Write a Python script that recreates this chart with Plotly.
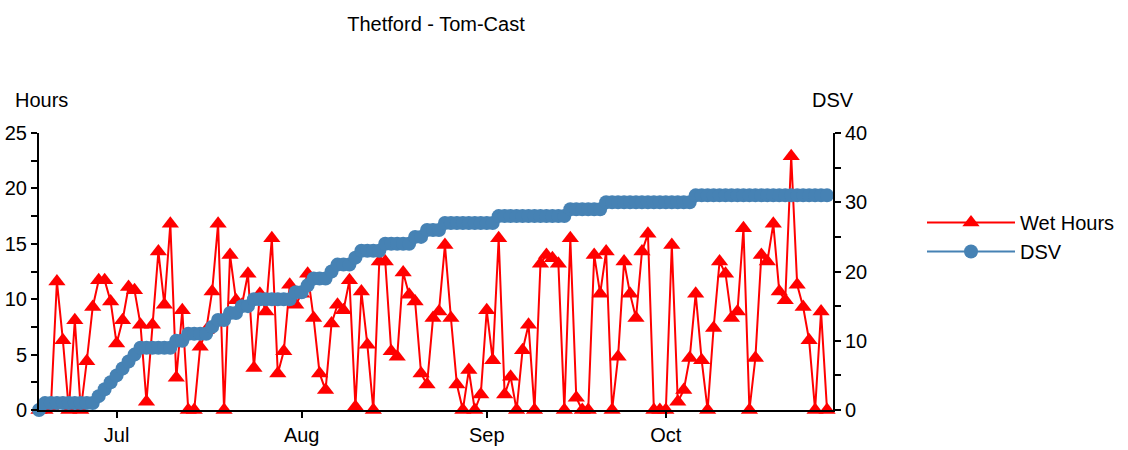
import pandas as pd
import plotly.graph_objects as go

# ---- data ----
dates = pd.date_range("2010-06-18", "2010-10-28", freq="D")

wet_hours = [
    0, 0, 0.3, 11.6, 6.3, 0, 8.1, 0, 4.4, 9.3,
    11.7, 11.7, 9.8, 6.0, 8.1, 11.1, 10.8, 7.7, 0.75, 7.7,
    14.3, 9.5, 16.8, 2.9, 9.0, 0, 0, 5.7, 7.2, 10.7,
    16.8, 0, 14.0, 9.9, 9.5, 12.3, 3.8, 10.5, 8.9, 15.5,
    3.3, 5.3, 11.3, 9.5, 10.5, 12.3, 8.3, 3.3, 1.8, 7.8,
    9.5, 9.0, 11.7, 0.3, 10.7, 5.9, 0, 13.4, 13.4, 5.3,
    4.8, 12.4, 10.4, 9.8, 3.3, 2.3, 8.3, 8.9, 14.9, 8.3,
    2.3, 0, 3.6, 0, 1.4, 9.0, 4.5, 15.5, 1.4, 3.0,
    0, 5.4, 7.7, 0, 13.2, 14.0, 13.7, 13.2, 0, 15.5,
    1.1, 0, 0, 14.0, 10.5, 14.3, 0, 4.8, 13.4, 10.5,
    8.3, 14.3, 15.9, 0, 0, 0, 14.9, 0.75, 1.8, 4.7,
    10.5, 4.5, 0, 7.4, 13.4, 12.3, 8.3, 8.9, 16.4, 0,
    4.7, 14.0, 13.4, 16.8, 10.7, 9.9, 22.9, 11.3, 9.3, 6.3,
    0, 8.9, 0,
]

dsv = (
    [0] + [1] * 9 + [2, 3, 4, 5, 6, 7, 8] + [9] * 6 + [10] * 2 + [11] * 4
    + [12] + [13] * 2 + [14] * 2 + [15] * 2 + [16] * 7 + [17] * 2 + [18]
    + [19] * 3 + [20] + [21] * 3 + [22] + [23] * 4 + [24] * 5 + [25] * 2
    + [26] * 3 + [27] * 9 + [28] * 12 + [29] * 6 + [30] * 15 + [31] * 23
)

month_ticks = ["2010-07-01", "2010-08-01", "2010-09-01", "2010-10-01"]
month_labels = ["Jul", "Aug", "Sep", "Oct"]
hours_ticks = [0, 2.5, 5, 7.5, 10, 12.5, 15, 17.5, 20, 22.5, 25]
hours_labels = ["0", "", "5", "", "10", "", "15", "", "20", "", "25"]
dsv_ticks = [0, 5, 10, 15, 20, 25, 30, 35, 40]
dsv_labels = ["0", "", "10", "", "20", "", "30", "", "40"]

FONT = "Liberation Sans, Arial, sans-serif"
BLUE = "#4682B4"
RED = "#FF0000"

fig = go.Figure()
fig.add_trace(go.Scatter(
    x=dates, y=dsv, name="DSV", yaxis="y2", mode="lines+markers",
    line=dict(color=BLUE, width=2),
    marker=dict(symbol="circle", size=14, color=BLUE),
    cliponaxis=False, legendrank=2,
))
fig.add_trace(go.Scatter(
    x=dates, y=wet_hours, name="Wet Hours", yaxis="y", mode="lines+markers",
    line=dict(color=RED, width=2),
    marker=dict(symbol="triangle-up", size=15, color=RED),
    cliponaxis=False, legendrank=1,
))

axis_common = dict(showgrid=False, zeroline=False, linecolor="black",
                   tickcolor="black", tickwidth=2, automargin=False)
x_range = ["2010-06-18", "2010-10-29"]

fig.update_layout(
    width=1128, height=450,
    margin=dict(l=39, r=295, t=133, b=40, autoexpand=False),
    paper_bgcolor="white", plot_bgcolor="white",
    font=dict(family=FONT, size=20, color="black"),
    title=dict(text="Thetford - Tom-Cast", x=0.5, xref="paper", xanchor="center",
               y=1 - 24 / 450, yref="container", yanchor="middle",
               font=dict(family=FONT, size=20, color="black"), automargin=False),
    xaxis=dict(type="date", range=x_range, showline=True, linewidth=2,
               ticks="outside", ticklen=6, tickvals=month_ticks, ticktext=month_labels,
               anchor="y", **axis_common),
    xaxis2=dict(type="date", range=x_range, overlaying="x", anchor="y", side="bottom",
                ticks="inside", ticklen=3, tickvals=month_ticks, showticklabels=False,
                showline=False, **axis_common),
    yaxis=dict(range=[0, 25], showline=True, linewidth=2, ticks="outside", ticklen=6,
               tickvals=hours_ticks, ticktext=hours_labels, anchor="x", **axis_common),
    yaxis3=dict(range=[0, 25], overlaying="y", side="left", anchor="x",
                ticks="inside", ticklen=3, tickvals=hours_ticks, showticklabels=False,
                showline=False, **axis_common),
    yaxis2=dict(range=[0, 40], overlaying="y", side="right", anchor="x", showline=True,
                linewidth=2, ticks="outside", ticklen=6, tickvals=dsv_ticks,
                ticktext=dsv_labels, **axis_common),
    yaxis4=dict(range=[0, 40], overlaying="y", side="right", anchor="x",
                ticks="inside", ticklen=3, tickvals=dsv_ticks, showticklabels=False,
                showline=False, **axis_common),
    legend=dict(xref="container", x=922 / 1128, xanchor="left",
                yref="container", y=1 - 203 / 450, yanchor="top",
                bgcolor="rgba(0,0,0,0)", itemwidth=88, tracegroupgap=0,
                font=dict(family=FONT, size=20, color="black")),
    annotations=[
        dict(text="Hours", xref="paper", yref="paper", x=(13 - 39) / 794, y=(410 - 100) / 277,
             xanchor="left", yanchor="middle", showarrow=False,
             font=dict(family=FONT, size=20, color="black")),
        dict(text="DSV", xref="paper", yref="paper", x=(810 - 39) / 794, y=(410 - 100) / 277,
             xanchor="left", yanchor="middle", showarrow=False,
             font=dict(family=FONT, size=20, color="black")),
    ],
)

fig.write_html("out.html")
